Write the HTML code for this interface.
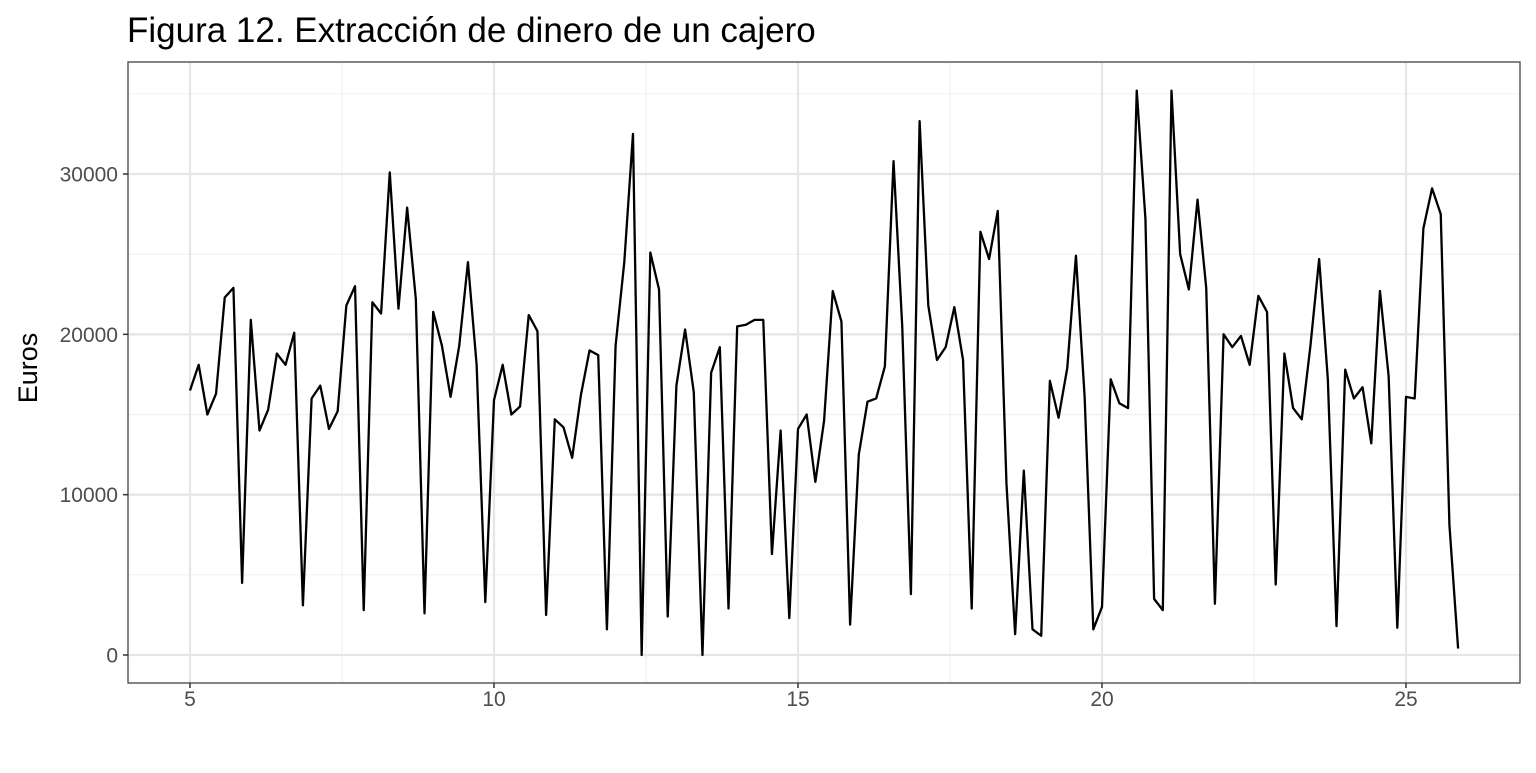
<!DOCTYPE html>
<html><head><meta charset="utf-8"><style>
body{margin:0;background:#fff;}
svg text{font-family:"Liberation Sans",Arial,sans-serif;}
</style></head><body>
<svg id="chart" width="1536" height="768" xmlns="http://www.w3.org/2000/svg">
<text x="127" y="42" font-size="35" fill="#000">Figura 12. Extracción de dinero de un cajero</text>
<text transform="translate(37,368) rotate(-90)" text-anchor="middle" font-size="27" fill="#000">Euros</text>
<g id="grid"></g>
<g id="ticks"></g>
<path id="line" fill="none" stroke="#000" stroke-width="2.3" stroke-linejoin="round"/>
<rect x="128" y="62" width="1392" height="621" fill="none" stroke="#333" stroke-width="1.2"/>
</svg>
<script>
const xStart = 5;
const freq = 7;
const values = [16.5,18.1,15.0,16.3,22.3,22.9,4.5,20.9,14.0,15.3,18.8,18.1,20.1,3.1,16.0,16.8,14.1,15.2,21.8,23.0,2.8,22.0,21.3,30.1,21.6,27.9,22.2,2.6,21.4,19.3,16.1,19.3,24.5,18.1,3.3,15.9,18.1,15.0,15.5,21.2,20.2,2.5,14.7,14.2,12.3,16.2,19.0,18.7,1.6,19.3,24.5,32.5,0.0,25.1,22.8,2.4,16.8,20.3,16.4,0.0,17.6,19.2,2.9,20.5,20.6,20.9,20.9,6.3,14.0,2.3,14.1,15.0,10.8,14.6,22.7,20.8,1.9,12.5,15.8,16.0,18.0,30.8,20.5,3.8,33.3,21.8,18.4,19.2,21.7,18.4,2.9,26.4,24.7,27.7,10.7,1.3,11.5,1.6,1.2,17.1,14.8,17.9,24.9,16.1,1.6,3.0,17.2,15.7,15.4,35.2,27.2,3.5,2.8,35.2,25.0,22.8,28.4,22.9,3.2,20.0,19.2,19.9,18.1,22.4,21.4,4.4,18.8,15.4,14.7,19.3,24.7,17.2,1.8,17.8,16.0,16.7,13.2,22.7,17.4,1.7,16.1,16.0,26.6,29.1,27.5,8.1,0.4].map(v=>v*1000);
const xTicks = [5,10,15,20,25];
const xMinor = [7.5,12.5,17.5,22.5];
const yTicks = [0,10000,20000,30000];
const yMinor = [5000,15000,25000,35000];

const L=128,R=1520,T=62,B=683;
const X = v => 190 + (v-5)*(1406-190)/20;
const Y = v => 655 - v*(655-174)/30000;
const NS="http://www.w3.org/2000/svg";
const grid=document.getElementById('grid'), ticks=document.getElementById('ticks');
function ln(p,x1,y1,x2,y2,c,w){const e=document.createElementNS(NS,'line');e.setAttribute('x1',x1);e.setAttribute('y1',y1);e.setAttribute('x2',x2);e.setAttribute('y2',y2);e.setAttribute('stroke',c);e.setAttribute('stroke-width',w);p.appendChild(e);return e;}
function tx(p,x,y,s,a){const e=document.createElementNS(NS,'text');e.setAttribute('x',x);e.setAttribute('y',y);e.setAttribute('text-anchor',a);e.setAttribute('font-size','21');e.setAttribute('fill','#4d4d4d');e.textContent=s;p.appendChild(e);return e;}
yMinor.forEach(v=>{const e=ln(grid,L,Y(v),R,Y(v),'#f0f0f0',1.2);

});
xMinor.forEach(v=>{const e=ln(grid,X(v),T,X(v),B,'#f0f0f0',1.2);

});
yTicks.forEach(v=>{const e=ln(grid,L,Y(v),R,Y(v),'#e6e6e6',2.3);


const t=ln(ticks,L-5,Y(v),L,Y(v),'#333',1.5);


const l=tx(ticks,L-10,Y(v)+7.5,String(v),'end');

});
xTicks.forEach(v=>{const e=ln(grid,X(v),T,X(v),B,'#e6e6e6',2.3);


const t=ln(ticks,X(v),B,X(v),B+5,'#333',1.5);


const l=tx(ticks,X(v),B+23,String(v),'middle');

});
document.getElementById('line').setAttribute('d',values.map((v,i)=>(i?'L':'M')+X(xStart+i/freq).toFixed(2)+','+Y(v).toFixed(2)).join(''));
</script>
</body></html>
